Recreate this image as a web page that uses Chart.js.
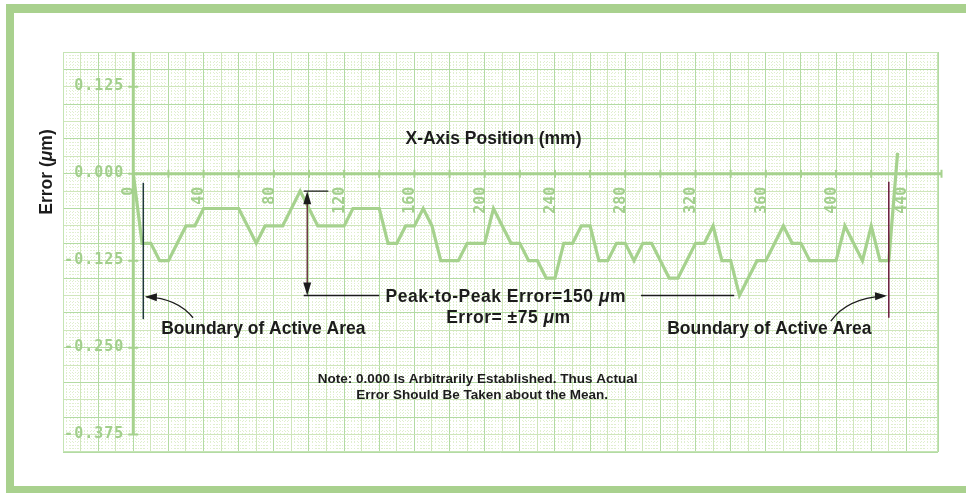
<!DOCTYPE html>
<html>
<head>
<meta charset="utf-8">
<script src="https://cdn.jsdelivr.net/npm/chart.js@4.4.1/dist/chart.umd.min.js"></script>
<style>
html, body { margin: 0; padding: 0; background: #fff; overflow: hidden; }
#wrap { position: relative; width: 966px; height: 493px; }
#frame { position: absolute; left: 6px; top: 4px; width: 1000px; height: 489px; box-sizing: border-box;
         border: solid #a9d18e; border-width: 9px 0 7px 8px; }
#chart { position: absolute; left: 0; top: 0; }
</style>
</head>
<body>
<div id="wrap"><div id="frame"></div><canvas id="chart" width="966" height="493"></canvas></div>
<script>
// trace: position along the X axis (mm) and the error reading
const positions = [0, 5, 10, 15, 20, 30, 35, 40, 60, 70, 75, 85, 95, 105, 120, 125, 140, 145, 150, 155,
  160, 165, 170, 175, 185, 190, 200, 205, 215, 220, 225, 230, 235, 240, 245, 250, 255, 260, 265, 270,
  275, 280, 285, 290, 295, 305, 310, 320, 325, 330, 335, 340, 345, 355, 360, 370, 375, 380, 385, 400,
  405, 415, 420, 425, 430, 435];
const errors = [0, -0.1, -0.1, -0.125, -0.125, -0.075, -0.075, -0.05, -0.05, -0.1, -0.075, -0.075, -0.025, -0.075, -0.075, -0.05, -0.05, -0.1, -0.1, -0.075,
  -0.075, -0.05, -0.075, -0.125, -0.125, -0.1, -0.1, -0.05, -0.1, -0.1, -0.125, -0.125, -0.15, -0.15, -0.1, -0.1, -0.075, -0.075, -0.125, -0.125,
  -0.1, -0.1, -0.125, -0.1, -0.1, -0.15, -0.15, -0.1, -0.1, -0.075, -0.125, -0.125, -0.175, -0.125, -0.125, -0.075, -0.1, -0.1, -0.125, -0.125,
  -0.075, -0.125, -0.075, -0.125, -0.125, 0.03];

// axis ticks and labels drawn by the plotter
const xTickMarks = [0, 20, 40, 60, 80, 100, 120, 140, 160, 180, 200, 220, 240, 260, 280, 300, 320, 340, 360, 380, 400, 420, 440, 460];
const xTickValues = [0, 40, 80, 120, 160, 200, 240, 280, 320, 360, 400, 440];
const yTickValues = [0.125, 0, -0.125, -0.25, -0.375];
const yTickLabels = ['0.125', '0.000', '-0.125', '-0.250', '-0.375'];

// annotation anchors in data units
const leftBoundary = 5.7, rightBoundary = 430;
const peakX = 99, peakTop = -0.025, peakBottom = -0.175;

const GREEN = '#a6d28e';
const LABEL_GREEN = '#a2cf8c';
const INK = '#1c1c1c';
const SANS = '"Liberation Sans", Arial, sans-serif';

function arrowHead(ctx, tx, ty, fx, fy, len, half) {
    const a = Math.atan2(ty - fy, tx - fx);
    ctx.beginPath();
    ctx.moveTo(tx, ty);
    ctx.lineTo(tx - len * Math.cos(a) + half * Math.sin(a), ty - len * Math.sin(a) - half * Math.cos(a));
    ctx.lineTo(tx - len * Math.cos(a) - half * Math.sin(a), ty - len * Math.sin(a) + half * Math.cos(a));
    ctx.closePath();
    ctx.fill();
}

// text made of pieces, some in italic (the Greek mu)
function richText(ctx, parts, cx, cy, size, spacing) {
    const fontFor = it => (it ? 'italic bold ' : 'bold ') + size + 'px ' + SANS;
    ctx.letterSpacing = (spacing || 0) + 'px';
    let total = 0;
    parts.forEach(p => { ctx.font = fontFor(p[1]); total += ctx.measureText(p[0]).width; });
    let x = cx - total / 2;
    ctx.textAlign = 'left';
    ctx.textBaseline = 'middle';
    parts.forEach(p => { ctx.font = fontFor(p[1]); ctx.fillText(p[0], x, cy); x += ctx.measureText(p[0]).width; });
    ctx.letterSpacing = '0px';
}

const plotter = {
    id: 'plotter',
    beforeDatasetsDraw(chart) {
        const { ctx, scales: { x, y } } = chart;
        const X = v => x.getPixelForValue(v), Y = v => y.getPixelForValue(v);
        ctx.save();
        // paper edge
        ctx.strokeStyle = '#c5e4b4';
        ctx.lineWidth = 1;
        const a = chart.chartArea;
        ctx.strokeRect(a.left + 0.5, a.top + 0.5, a.right - a.left - 1, a.bottom - a.top - 1);

        ctx.strokeStyle = GREEN;
        ctx.lineWidth = 3;
        ctx.beginPath();
        ctx.moveTo(X(0), Y(0)); ctx.lineTo(X(460), Y(0));
        ctx.moveTo(X(0), Y(0.175)); ctx.lineTo(X(0), Y(-0.375));
        ctx.stroke();
        ctx.lineWidth = 2;
        ctx.beginPath();
        xTickMarks.forEach(v => { ctx.moveTo(X(v), Y(0) - 4); ctx.lineTo(X(v), Y(0) + 4); });
        yTickValues.forEach(v => { ctx.moveTo(X(0) - 5, Y(v)); ctx.lineTo(X(0) + 5, Y(v)); });
        ctx.stroke();

        ctx.fillStyle = LABEL_GREEN;
        ctx.font = 'bold 15px "DejaVu Sans Mono", monospace';
        ctx.letterSpacing = '1px';
        ctx.textAlign = 'right';
        ctx.textBaseline = 'alphabetic';
        yTickValues.forEach((v, i) => ctx.fillText(yTickLabels[i], X(0) - 9, Y(v) + 3));
        ctx.letterSpacing = '0px';
        xTickValues.forEach(v => {
            ctx.save();
            ctx.translate(X(v) - 4, Y(0) + 13);
            ctx.rotate(-Math.PI / 2);
            ctx.textAlign = 'right';
            ctx.textBaseline = 'middle';
            ctx.fillText(String(v), 0, 0);
            ctx.restore();
        });
        ctx.restore();
    },
    afterDatasetsDraw(chart) {
        const { ctx, scales: { x, y } } = chart;
        const X = v => x.getPixelForValue(v), Y = v => y.getPixelForValue(v);
        ctx.save();
        ctx.lineWidth = 1.5;

        // boundaries of the active area
        ctx.strokeStyle = '#1e3838';
        ctx.beginPath(); ctx.moveTo(X(leftBoundary), Y(-0.013)); ctx.lineTo(X(leftBoundary), Y(-0.209)); ctx.stroke();
        ctx.strokeStyle = '#6a1a3a';
        ctx.beginPath(); ctx.moveTo(X(rightBoundary), Y(-0.0115)); ctx.lineTo(X(rightBoundary), Y(-0.207)); ctx.stroke();

        ctx.strokeStyle = INK;
        ctx.fillStyle = INK;
        ctx.lineWidth = 1.3;
        ctx.beginPath();
        ctx.moveTo(X(34), Y(-0.207)); ctx.quadraticCurveTo(X(25), Y(-0.179), X(7.5), Y(-0.177));
        ctx.stroke();
        arrowHead(ctx, X(6.6), Y(-0.177), X(20), Y(-0.178), 12, 4);
        ctx.beginPath();
        ctx.moveTo(X(397), Y(-0.212)); ctx.quadraticCurveTo(X(406), Y(-0.179), X(427.5), Y(-0.1755));
        ctx.stroke();
        arrowHead(ctx, X(429), Y(-0.1755), X(414), Y(-0.177), 12, 4);

        // peak-to-peak dimension
        ctx.beginPath();
        ctx.moveTo(X(97), Y(peakTop)); ctx.lineTo(X(111), Y(peakTop));
        ctx.moveTo(X(97), Y(peakBottom)); ctx.lineTo(X(140), Y(peakBottom));
        ctx.moveTo(X(289), Y(peakBottom)); ctx.lineTo(X(342), Y(peakBottom));
        ctx.stroke();
        ctx.strokeStyle = '#5c1f2c';
        ctx.beginPath(); ctx.moveTo(X(peakX), Y(peakTop) + 8); ctx.lineTo(X(peakX), Y(peakBottom) - 8); ctx.stroke();
        arrowHead(ctx, X(peakX), Y(peakTop), X(peakX), Y(peakTop) + 10, 13, 4);
        arrowHead(ctx, X(peakX), Y(peakBottom), X(peakX), Y(peakBottom) - 10, 13, 4);

        // texts
        richText(ctx, [['X-Axis Position (mm)', false]], X(205), Y(0.049), 17.5);
        richText(ctx, [['Peak-to-Peak Error=150 ', false], ['\u03bc', true], ['m', false]], X(212), Y(-0.177), 17.5, 0.5);
        richText(ctx, [['Error= \u00b175 ', false], ['\u03bc', true], ['m', false]], X(213.5), Y(-0.207), 17.5, 0.5);
        richText(ctx, [['Boundary of Active Area', false]], X(74), Y(-0.223), 17.5);
        richText(ctx, [['Boundary of Active Area', false]], X(362), Y(-0.223), 17.5);
        richText(ctx, [['Note: 0.000 Is Arbitrarily Established. Thus Actual', false]], X(196), Y(-0.296), 13.5);
        richText(ctx, [['Error Should Be Taken about the Mean.', false]], X(198.5), Y(-0.319), 13.5);

        ctx.save();
        ctx.translate(47, 172);
        ctx.rotate(-Math.PI / 2);
        richText(ctx, [['Error (', false], ['\u03bc', true], ['m)', false]], 0, 0, 17.5);
        ctx.restore();
        ctx.restore();
    }
};

const zeroSize = s => { if (s.isHorizontal()) s.height = 0; else s.width = 0; };
const majorX = c => (Math.round(c.tick.value / 10) % 2 === 0 ? '#b3dba3' : '#cfe6bb');
const majorY = c => (Math.round(c.tick.value / 0.025) % 2 === 0 ? '#b3dba3' : '#cfe6bb');

new Chart(document.getElementById('chart'), {
    type: 'line',
    data: {
        datasets: [{
            data: positions.map((p, i) => ({ x: p, y: errors[i] })),
            borderColor: GREEN,
            borderWidth: 3.2,
            pointRadius: 0,
            tension: 0,
            fill: false,
            xAxisID: 'x',
            yAxisID: 'y'
        }]
    },
    options: {
        responsive: false,
        animation: false,
        devicePixelRatio: 1,
        layout: { padding: { left: 63, top: 52, right: 28, bottom: 41 } },
        plugins: { legend: { display: false }, tooltip: { enabled: false } },
        scales: {
            xMinor: {
                type: 'linear', axis: 'x', position: 'bottom', min: -40, max: 458, z: -1,
                ticks: { display: false, stepSize: 2, autoSkip: false },
                grid: { color: '#e0efcf', drawTicks: false },
                border: { display: false, dash: [1, 2] },
                afterFit: zeroSize
            },
            yMinor: {
                type: 'linear', axis: 'y', position: 'left', min: -0.4, max: 0.175, z: -1,
                ticks: { display: false, stepSize: 0.005, autoSkip: false },
                grid: { color: '#e0efcf', drawTicks: false },
                border: { display: false, dash: [1, 2] },
                afterFit: zeroSize
            },
            x: {
                type: 'linear', position: 'bottom', min: -40, max: 458,
                ticks: { display: false, stepSize: 10, autoSkip: false },
                grid: { color: majorX, drawTicks: false },
                border: { display: false },
                afterFit: zeroSize
            },
            y: {
                type: 'linear', position: 'left', min: -0.4, max: 0.175,
                ticks: { display: false, stepSize: 0.025, autoSkip: false },
                grid: { color: majorY, drawTicks: false },
                border: { display: false },
                afterFit: zeroSize
            }
        }
    },
    plugins: [plotter]
});
</script>
</body>
</html>
